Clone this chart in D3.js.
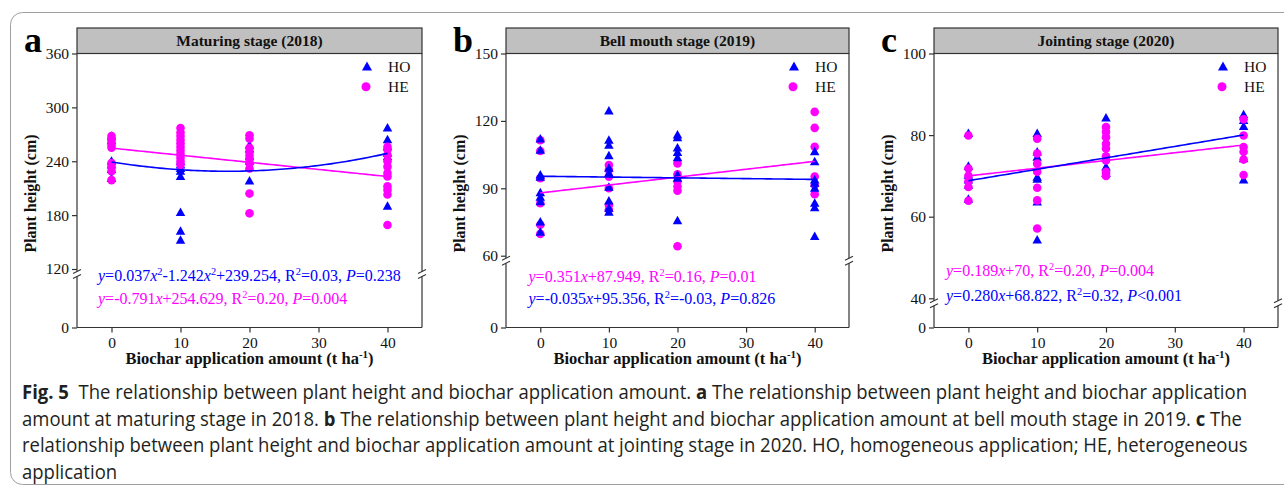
<!DOCTYPE html>
<html>
<head>
<meta charset="utf-8">
<script src="https://cdn.jsdelivr.net/npm/d3@7/dist/d3.min.js"></script>
<style>
  body { margin: 0; background: #fff; }
  svg { display: block; }
</style>
</head>
<body>
<svg id="fig" width="1284" height="492"></svg>
<script>
// Biochar application amount (t ha-1) and axis ticks
const doses = [0, 10, 20, 40];
const xTicks = [0, 10, 20, 30, 40];

// Plant height (cm), one inner list per dose: homogeneous (HO) and heterogeneous (HE)
const aHO = [[268, 263, 240, 236, 231, 221], [240, 236, 232, 229, 223, 183, 162, 152], [258, 254, 246, 240, 233, 218], [277, 264, 256, 249, 245, 190]];
const aHE = [[268, 265, 262, 258, 255, 238, 234, 229, 219], [277, 272, 268, 264, 260, 256, 252, 248, 244, 240, 236], [269, 265, 255, 250, 246, 242, 238, 232, 204, 182], [256, 253, 247, 240, 234, 227, 223, 212, 208, 203, 169]];
const bHO = [[112, 107, 96, 95, 88, 86, 84, 75, 70.5], [124.4, 111.4, 109.2, 104.5, 99, 96.7, 90.5, 84.4, 81.2, 79.4], [113.7, 112.5, 108, 106, 103.6, 95.9, 94.5, 75.6], [106.3, 101.8, 93.7, 92.3, 90, 83.4, 81.4, 68.6]];
const bHE = [[111.4, 106.6, 94.5, 83.4, 73.8, 69.7], [100.4, 98.2, 95.2, 90, 82.6, 80.4], [101.1, 96.2, 93, 90.8, 88.9, 64.2], [124, 116.9, 108.5, 95.2, 91.5, 87.4]];
const cHO = [[80.4, 72.4, 70.2, 69, 67.7, 64.3], [80.4, 75.9, 74.6, 69.7, 69.2, 63.6, 54.3], [84.2, 72.2, 70.6], [85, 83.6, 82.1, 74.2, 69]];
const cHE = [[79.9, 71.8, 70, 68.7, 67.3, 63.9], [79.1, 75.5, 73, 71, 67.1, 64, 57.1], [82, 80.8, 79.5, 77.9, 76.7, 74.8, 73.8, 71, 70.5, 70], [83.9, 79.9, 77.1, 75.9, 74, 70.2]];

// Y tick labels (the axis is broken between 0 and the second tick)
const yTicksA = [0, 120, 180, 240, 300, 360];
const yTicksB = [0, 60, 90, 120, 150];
const yTicksC = [0, 40, 60, 80, 100];

// Fitted curves: [intercept, linear, quadratic]
const fitAHO = [239.254, -1.242, 0.037];
const fitAHE = [254.629, -0.791, 0];
const fitBHO = [95.356, -0.035, 0];
const fitBHE = [87.949, 0.351, 0];
const fitCHO = [68.822, 0.280, 0];
const fitCHE = [70, 0.189, 0];

// Fit equations (*italic*, ^superscript^)
const eqAHO = "*y*=0.037*x*^2^-1.242*x*^2^+239.254, R^2^=0.03, *P*=0.238";
const eqAHE = "*y*=-0.791*x*+254.629, R^2^=0.20, *P*=0.004";
const eqBHE = "*y*=0.351*x*+87.949, R^2^=0.16, *P*=0.01";
const eqBHO = "*y*=-0.035*x*+95.356, R^2^=-0.03, *P*=0.826";
const eqCHE = "*y*=0.189*x*+70, R^2^=0.20, *P*=0.004";
const eqCHO = "*y*=0.280*x*+68.822, R^2^=0.32, *P*<0.001";

const panelTitles = ["Maturing stage (2018)", "Bell mouth stage (2019)", "Jointing stage (2020)"];
const panelLetters = ["a", "b", "c"];
const seriesNames = ["HO", "HE"];

const BLUE = "#0000ff", MAGENTA = "#ff00ff", AXIS = "#333";
const SERIF = "'Liberation Serif', 'Times New Roman', serif";

const panels = [
  { ho: aHO, he: aHE, ticks: yTicksA, fitHO: fitAHO, fitHE: fitAHE,
    eqs: [[eqAHO, BLUE], [eqAHE, MAGENTA]], heOnTop: true,
    x0: 77, x1: 422, breakPx: 269, eqDx: 21, eqY: [275, 298] },
  { ho: bHO, he: bHE, ticks: yTicksB, fitHO: fitBHO, fitHE: fitBHE,
    eqs: [[eqBHE, MAGENTA], [eqBHO, BLUE]], heOnTop: false,
    x0: 506, x1: 849, breakPx: 255.7, eqDx: 22.5, eqY: [276.5, 298.3] },
  { ho: cHO, he: cHE, ticks: yTicksC, fitHO: fitCHO, fitHE: fitCHE,
    eqs: [[eqCHE, MAGENTA], [eqCHO, BLUE]], heOnTop: true,
    x0: 934, x1: 1278, breakPx: 298.3, eqDx: 12, eqY: [270.7, 295] }
];

const TOP = 53.5, BOTTOM = 327.5, STRIP_TOP = 28;
const svg = d3.select("#fig");

// outer frame around the figure
svg.append("rect").attr("x", 10.5).attr("y", 12.5).attr("width", 1300).attr("height", 472)
  .attr("rx", 12).attr("fill", "none").attr("stroke", "#a0a0a0").attr("stroke-width", 1);

const triPath = (cx, cy, w, h) => `M${cx},${cy - h * 0.58}L${cx + w / 2},${cy + h * 0.42}L${cx - w / 2},${cy + h * 0.42}Z`;

function richText(sel, str, size) {
  const parts = str.split(/(\*[^*]+\*|\^[^^]+\^)/).filter(s => s.length);
  let raised = false;
  parts.forEach(p => {
    const t = sel.append("tspan");
    if (p.startsWith("*")) {
      t.text(p.slice(1, -1)).attr("font-style", "italic");
      if (raised) { t.attr("dy", 6); raised = false; }
    } else if (p.startsWith("^")) {
      t.text(p.slice(1, -1)).attr("font-size", size * 0.65).attr("dy", -6);
      raised = true;
    } else {
      t.text(p);
      if (raised) { t.attr("dy", 6); raised = false; }
    }
  });
}

panels.forEach((P, i) => {
  const g = svg.append("g");
  const x = d3.scaleLinear().domain([-5, 45]).range([P.x0, P.x1]);
  const lo = P.ticks[1], hi = P.ticks[P.ticks.length - 1];
  const y = d3.scaleLinear().domain([0, lo, hi]).range([BOTTOM, P.breakPx, TOP]);

  // strip header
  g.append("rect").attr("x", P.x0).attr("y", STRIP_TOP).attr("width", P.x1 - P.x0).attr("height", TOP - STRIP_TOP)
    .attr("fill", "#c0c0c0").attr("stroke", AXIS).attr("stroke-width", 1.2);
  g.append("text").attr("x", (P.x0 + P.x1) / 2).attr("y", (STRIP_TOP + TOP) / 2 + 5.5)
    .attr("text-anchor", "middle").attr("font-family", SERIF).attr("font-weight", "bold")
    .attr("font-size", 15.5).attr("fill", "#111").text(panelTitles[i]);

  // panel letter
  g.append("text").attr("x", P.x0 - 53).attr("y", 52).attr("font-family", SERIF)
    .attr("font-weight", "bold").attr("font-size", 36).attr("fill", "#000").text(panelLetters[i]);

  // axes
  const yAxis = d3.axisLeft(y).tickValues(P.ticks).tickSize(5).tickPadding(3).tickFormat(d3.format("d"));
  const ya = g.append("g").attr("transform", `translate(${P.x0},0)`).call(yAxis);
  const xAxis = d3.axisBottom(x).tickValues(xTicks).tickSize(5).tickPadding(4);
  const xa = g.append("g").attr("transform", `translate(0,${BOTTOM})`).call(xAxis);
  [ya, xa].forEach(a => {
    a.select(".domain").remove();
    a.selectAll("line").attr("stroke", AXIS).attr("stroke-width", 1.2);
    a.selectAll("text").attr("font-family", SERIF).attr("font-size", 15.5).attr("fill", "#111");
  });
  // frame lines
  g.append("line").attr("x1", P.x0).attr("x2", P.x0).attr("y1", TOP).attr("y2", BOTTOM).attr("stroke", AXIS).attr("stroke-width", 1.2);
  g.append("line").attr("x1", P.x1).attr("x2", P.x1).attr("y1", TOP).attr("y2", BOTTOM).attr("stroke", AXIS).attr("stroke-width", 1.2);
  g.append("line").attr("x1", P.x0).attr("x2", P.x1).attr("y1", BOTTOM).attr("y2", BOTTOM).attr("stroke", AXIS).attr("stroke-width", 1.2);

  // axis break marks
  const by = P.breakPx + 5;
  [P.x0, P.x1].forEach(bx => {
    g.append("rect").attr("x", bx - 2).attr("y", by - 2.5).attr("width", 4).attr("height", 5).attr("fill", "#fff");
    [-2.5, 2.5].forEach(o => {
      g.append("line").attr("x1", bx - 4).attr("y1", by + o + 2).attr("x2", bx + 4).attr("y2", by + o - 2)
        .attr("stroke", AXIS).attr("stroke-width", 1.1);
    });
  });

  // axis titles
  g.append("text").attr("transform", `translate(${P.x0 - 41},${(TOP + BOTTOM) / 2 + 3}) rotate(-90)`)
    .attr("text-anchor", "middle").attr("font-family", SERIF).attr("font-weight", "bold")
    .attr("font-size", 16).attr("fill", "#111").text("Plant height (cm)");
  const xt = g.append("text").attr("x", x(20)).attr("y", 363.5).attr("text-anchor", "middle")
    .attr("font-family", SERIF).attr("font-weight", "bold").attr("font-size", 16.5).attr("fill", "#111");
  xt.append("tspan").text("Biochar application amount (t ha");
  xt.append("tspan").text("-1").attr("font-size", 11).attr("dy", -6);
  xt.append("tspan").text(")").attr("dy", 6);

  // points
  const flat = arr => arr.flatMap((vals, k) => vals.map(v => ({ x: doses[k], y: v })));
  const drawHO = () => g.append("g").selectAll("path").data(flat(P.ho)).join("path")
    .attr("d", d => triPath(x(d.x), y(d.y), 9.5, 8.5)).attr("fill", BLUE);
  const drawHE = () => g.append("g").selectAll("circle").data(flat(P.he)).join("circle")
    .attr("cx", d => x(d.x)).attr("cy", d => y(d.y)).attr("r", 4.3).attr("fill", MAGENTA);
  if (P.heOnTop) { drawHO(); drawHE(); } else { drawHE(); drawHO(); }

  // fitted lines
  const xs = d3.range(0, 40.01, 0.5);
  const line = d3.line().x(d => x(d[0])).y(d => y(d[1]));
  const curve = c => xs.map(v => [v, c[0] + c[1] * v + c[2] * v * v]);
  g.append("path").attr("d", line(curve(P.fitHE))).attr("fill", "none").attr("stroke", MAGENTA).attr("stroke-width", 1.6);
  g.append("path").attr("d", line(curve(P.fitHO))).attr("fill", "none").attr("stroke", BLUE).attr("stroke-width", 1.6);

  // legend
  const lx = P.x1 - 55;
  g.append("path").attr("d", triPath(lx, 66.7, 10, 9)).attr("fill", BLUE);
  g.append("circle").attr("cx", lx - 1).attr("cy", 86.7).attr("r", 4.5).attr("fill", MAGENTA);
  seriesNames.forEach((n, k) => {
    g.append("text").attr("x", P.x1 - 34).attr("y", 72 + k * 20).attr("font-family", SERIF)
      .attr("font-size", 15.5).attr("fill", "#111").text(n);
  });

  // equations
  P.eqs.forEach(([eq, col], k) => {
    const t = g.append("text").attr("x", P.x0 + P.eqDx).attr("y", P.eqY[k] + 5.5)
      .attr("font-family", SERIF).attr("font-size", 16).attr("fill", col);
    richText(t, eq, 16);
  });
});

// caption
const captionLines = [
  [["Fig. 5", true], ["  The relationship between plant height and biochar application amount. ", false], ["a", true], [" The relationship between plant height and biochar application", false]],
  [["amount at maturing stage in 2018. ", false], ["b", true], [" The relationship between plant height and biochar application amount at bell mouth stage in 2019. ", false], ["c", true], [" The", false]],
  [["relationship between plant height and biochar application amount at jointing stage in 2020. HO, homogeneous application; HE, heterogeneous", false]],
  [["application", false]]
];
const captionWidths = [1226, 1220, 1226, null];
const captionY = [398.5, 425.5, 452, 478.5];
let lastScale = 1;
captionLines.forEach((segs, i) => {
  const t = svg.append("text").attr("font-family", "'Open Sans', 'Noto Sans', sans-serif")
    .attr("font-size", 19.5).attr("fill", "#231f20").style("white-space", "pre");
  segs.forEach(([s, b]) => t.append("tspan").text(s).attr("font-weight", b ? "bold" : "normal"));
  const len = t.node().getComputedTextLength();
  const sc = captionWidths[i] ? captionWidths[i] / len : lastScale;
  lastScale = sc;
  t.attr("transform", `translate(22,${captionY[i]}) scale(${sc},1)`);
});
</script>
</body>
</html>
